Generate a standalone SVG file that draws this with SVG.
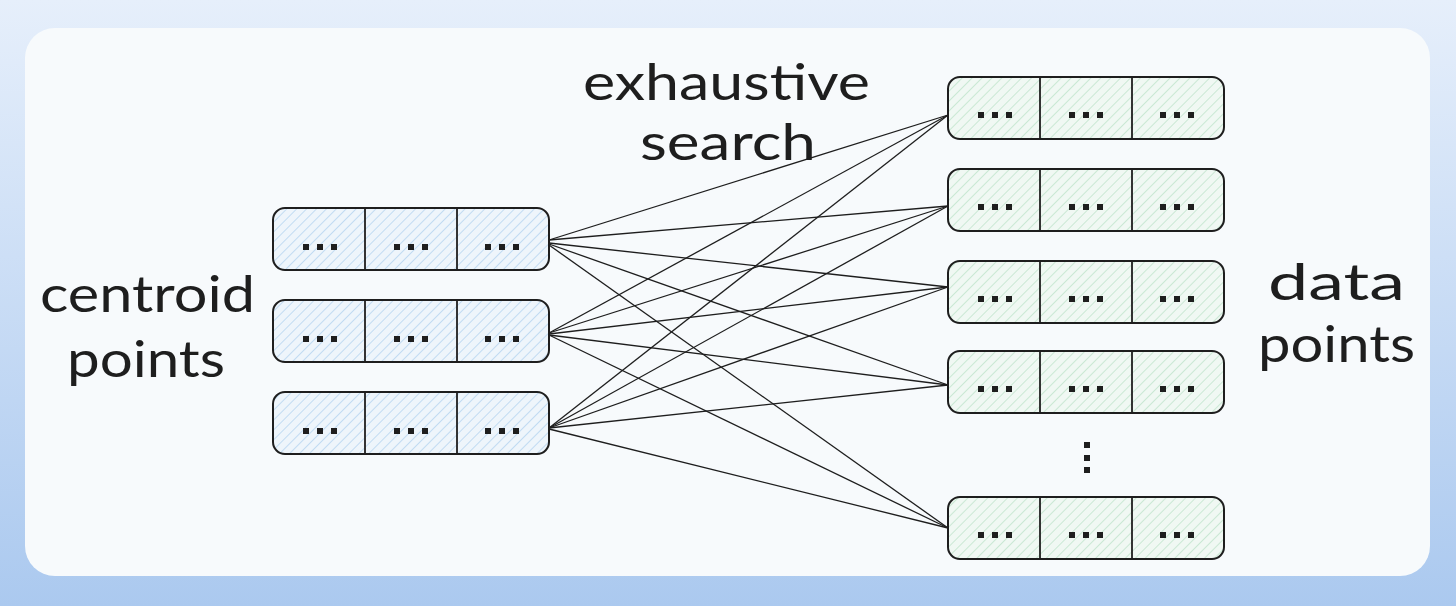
<svg xmlns="http://www.w3.org/2000/svg" width="1456" height="606" viewBox="0 0 1456 606">
<defs>
<linearGradient id="bg" x1="0" y1="0" x2="0" y2="1">
<stop offset="0" stop-color="#e6effb"/>
<stop offset="1" stop-color="#abc9ef"/>
</linearGradient>
<pattern id="hb" width="7" height="7" patternUnits="userSpaceOnUse" patternTransform="rotate(45)">
<rect width="7" height="7" fill="#eef5fb"/>
<line x1="0" y1="0" x2="0" y2="7" stroke="#a9cdee" stroke-width="1.3"/>
</pattern>
<pattern id="hg" width="7" height="7" patternUnits="userSpaceOnUse" patternTransform="rotate(45)">
<rect width="7" height="7" fill="#f0f8f3"/>
<line x1="0" y1="0" x2="0" y2="7" stroke="#b5e0c4" stroke-width="1.3"/>
</pattern>
<g id="dots">
<rect x="-17" y="-3" width="6" height="6"/>
<rect x="-3" y="-3" width="6" height="6"/>
<rect x="11" y="-3" width="6" height="6"/>
</g>
</defs>
<style>
.box{stroke:#1e1e1e;stroke-width:2}
.div{stroke:#1e1e1e;stroke-width:1.8}
.d{fill:#1e1e1e}
.lbl{font-family:"Lato","Open Sans",sans-serif;font-size:50px;fill:#1e1e1e}
.con line{stroke:#1e1e1e;stroke-width:1.3}
</style>
<rect width="1456" height="606" fill="url(#bg)"/>
<rect x="25" y="28" width="1405" height="548" rx="30" fill="#f7fafc"/>

<g id="labels">
<text class="lbl" x="583" y="100" textLength="287" lengthAdjust="spacingAndGlyphs">exhaustive</text>
<text class="lbl" x="640" y="160" textLength="176" lengthAdjust="spacingAndGlyphs">search</text>
<text class="lbl" x="40" y="312" textLength="215" lengthAdjust="spacingAndGlyphs">centroid</text>
<text class="lbl" x="67" y="377" textLength="158" lengthAdjust="spacingAndGlyphs">points</text>
<text class="lbl" x="1268" y="300" textLength="137" lengthAdjust="spacingAndGlyphs">data</text>
<text class="lbl" x="1258" y="362" textLength="157" lengthAdjust="spacingAndGlyphs">points</text>
</g>

<g class="con" id="connectors">
<line x1="549" y1="240" x2="948" y2="115"/>
<line x1="549" y1="240" x2="948" y2="206"/>
<line x1="549" y1="243" x2="948" y2="287"/>
<line x1="549" y1="244" x2="948" y2="385"/>
<line x1="549" y1="245" x2="948" y2="528"/>
<line x1="549" y1="333" x2="948" y2="115"/>
<line x1="549" y1="333" x2="948" y2="206"/>
<line x1="549" y1="334" x2="948" y2="287"/>
<line x1="549" y1="335" x2="948" y2="385"/>
<line x1="549" y1="335" x2="948" y2="528"/>
<line x1="549" y1="428" x2="948" y2="115"/>
<line x1="549" y1="428" x2="948" y2="206"/>
<line x1="549" y1="428" x2="948" y2="287"/>
<line x1="549" y1="428" x2="948" y2="385"/>
<line x1="549" y1="429" x2="948" y2="528"/>
</g>

<g id="c1">
<rect class="box" x="273" y="208" width="276" height="62" rx="12" fill="url(#hb)"/>
<line class="div" x1="365" y1="208" x2="365" y2="270"/>
<line class="div" x1="457" y1="208" x2="457" y2="270"/>
<use href="#dots" class="d" x="320" y="247"/><use href="#dots" class="d" x="411" y="247"/><use href="#dots" class="d" x="502" y="247"/>
</g>
<g id="c2">
<rect class="box" x="273" y="300" width="276" height="62" rx="12" fill="url(#hb)"/>
<line class="div" x1="365" y1="300" x2="365" y2="362"/>
<line class="div" x1="457" y1="300" x2="457" y2="362"/>
<use href="#dots" class="d" x="320" y="339"/><use href="#dots" class="d" x="411" y="339"/><use href="#dots" class="d" x="502" y="339"/>
</g>
<g id="c3">
<rect class="box" x="273" y="392" width="276" height="62" rx="12" fill="url(#hb)"/>
<line class="div" x1="365" y1="392" x2="365" y2="454"/>
<line class="div" x1="457" y1="392" x2="457" y2="454"/>
<use href="#dots" class="d" x="320" y="431"/><use href="#dots" class="d" x="411" y="431"/><use href="#dots" class="d" x="502" y="431"/>
</g>

<g id="d1">
<rect class="box" x="948" y="77" width="276" height="62" rx="12" fill="url(#hg)"/>
<line class="div" x1="1040" y1="77" x2="1040" y2="139"/>
<line class="div" x1="1132" y1="77" x2="1132" y2="139"/>
<use href="#dots" class="d" x="995" y="115"/><use href="#dots" class="d" x="1086" y="115"/><use href="#dots" class="d" x="1177" y="115"/>
</g>
<g id="d2">
<rect class="box" x="948" y="169" width="276" height="62" rx="12" fill="url(#hg)"/>
<line class="div" x1="1040" y1="169" x2="1040" y2="231"/>
<line class="div" x1="1132" y1="169" x2="1132" y2="231"/>
<use href="#dots" class="d" x="995" y="207"/><use href="#dots" class="d" x="1086" y="207"/><use href="#dots" class="d" x="1177" y="207"/>
</g>
<g id="d3">
<rect class="box" x="948" y="261" width="276" height="62" rx="12" fill="url(#hg)"/>
<line class="div" x1="1040" y1="261" x2="1040" y2="323"/>
<line class="div" x1="1132" y1="261" x2="1132" y2="323"/>
<use href="#dots" class="d" x="995" y="299"/><use href="#dots" class="d" x="1086" y="299"/><use href="#dots" class="d" x="1177" y="299"/>
</g>
<g id="d4">
<rect class="box" x="948" y="351" width="276" height="62" rx="12" fill="url(#hg)"/>
<line class="div" x1="1040" y1="351" x2="1040" y2="413"/>
<line class="div" x1="1132" y1="351" x2="1132" y2="413"/>
<use href="#dots" class="d" x="995" y="389"/><use href="#dots" class="d" x="1086" y="389"/><use href="#dots" class="d" x="1177" y="389"/>
</g>
<g id="vdots" class="d">
<rect x="1084" y="442" width="6" height="6"/>
<rect x="1084" y="455" width="6" height="6"/>
<rect x="1084" y="467" width="6" height="6"/>
</g>
<g id="d5">
<rect class="box" x="948" y="497" width="276" height="62" rx="12" fill="url(#hg)"/>
<line class="div" x1="1040" y1="497" x2="1040" y2="559"/>
<line class="div" x1="1132" y1="497" x2="1132" y2="559"/>
<use href="#dots" class="d" x="995" y="535"/><use href="#dots" class="d" x="1086" y="535"/><use href="#dots" class="d" x="1177" y="535"/>
</g>
</svg>
